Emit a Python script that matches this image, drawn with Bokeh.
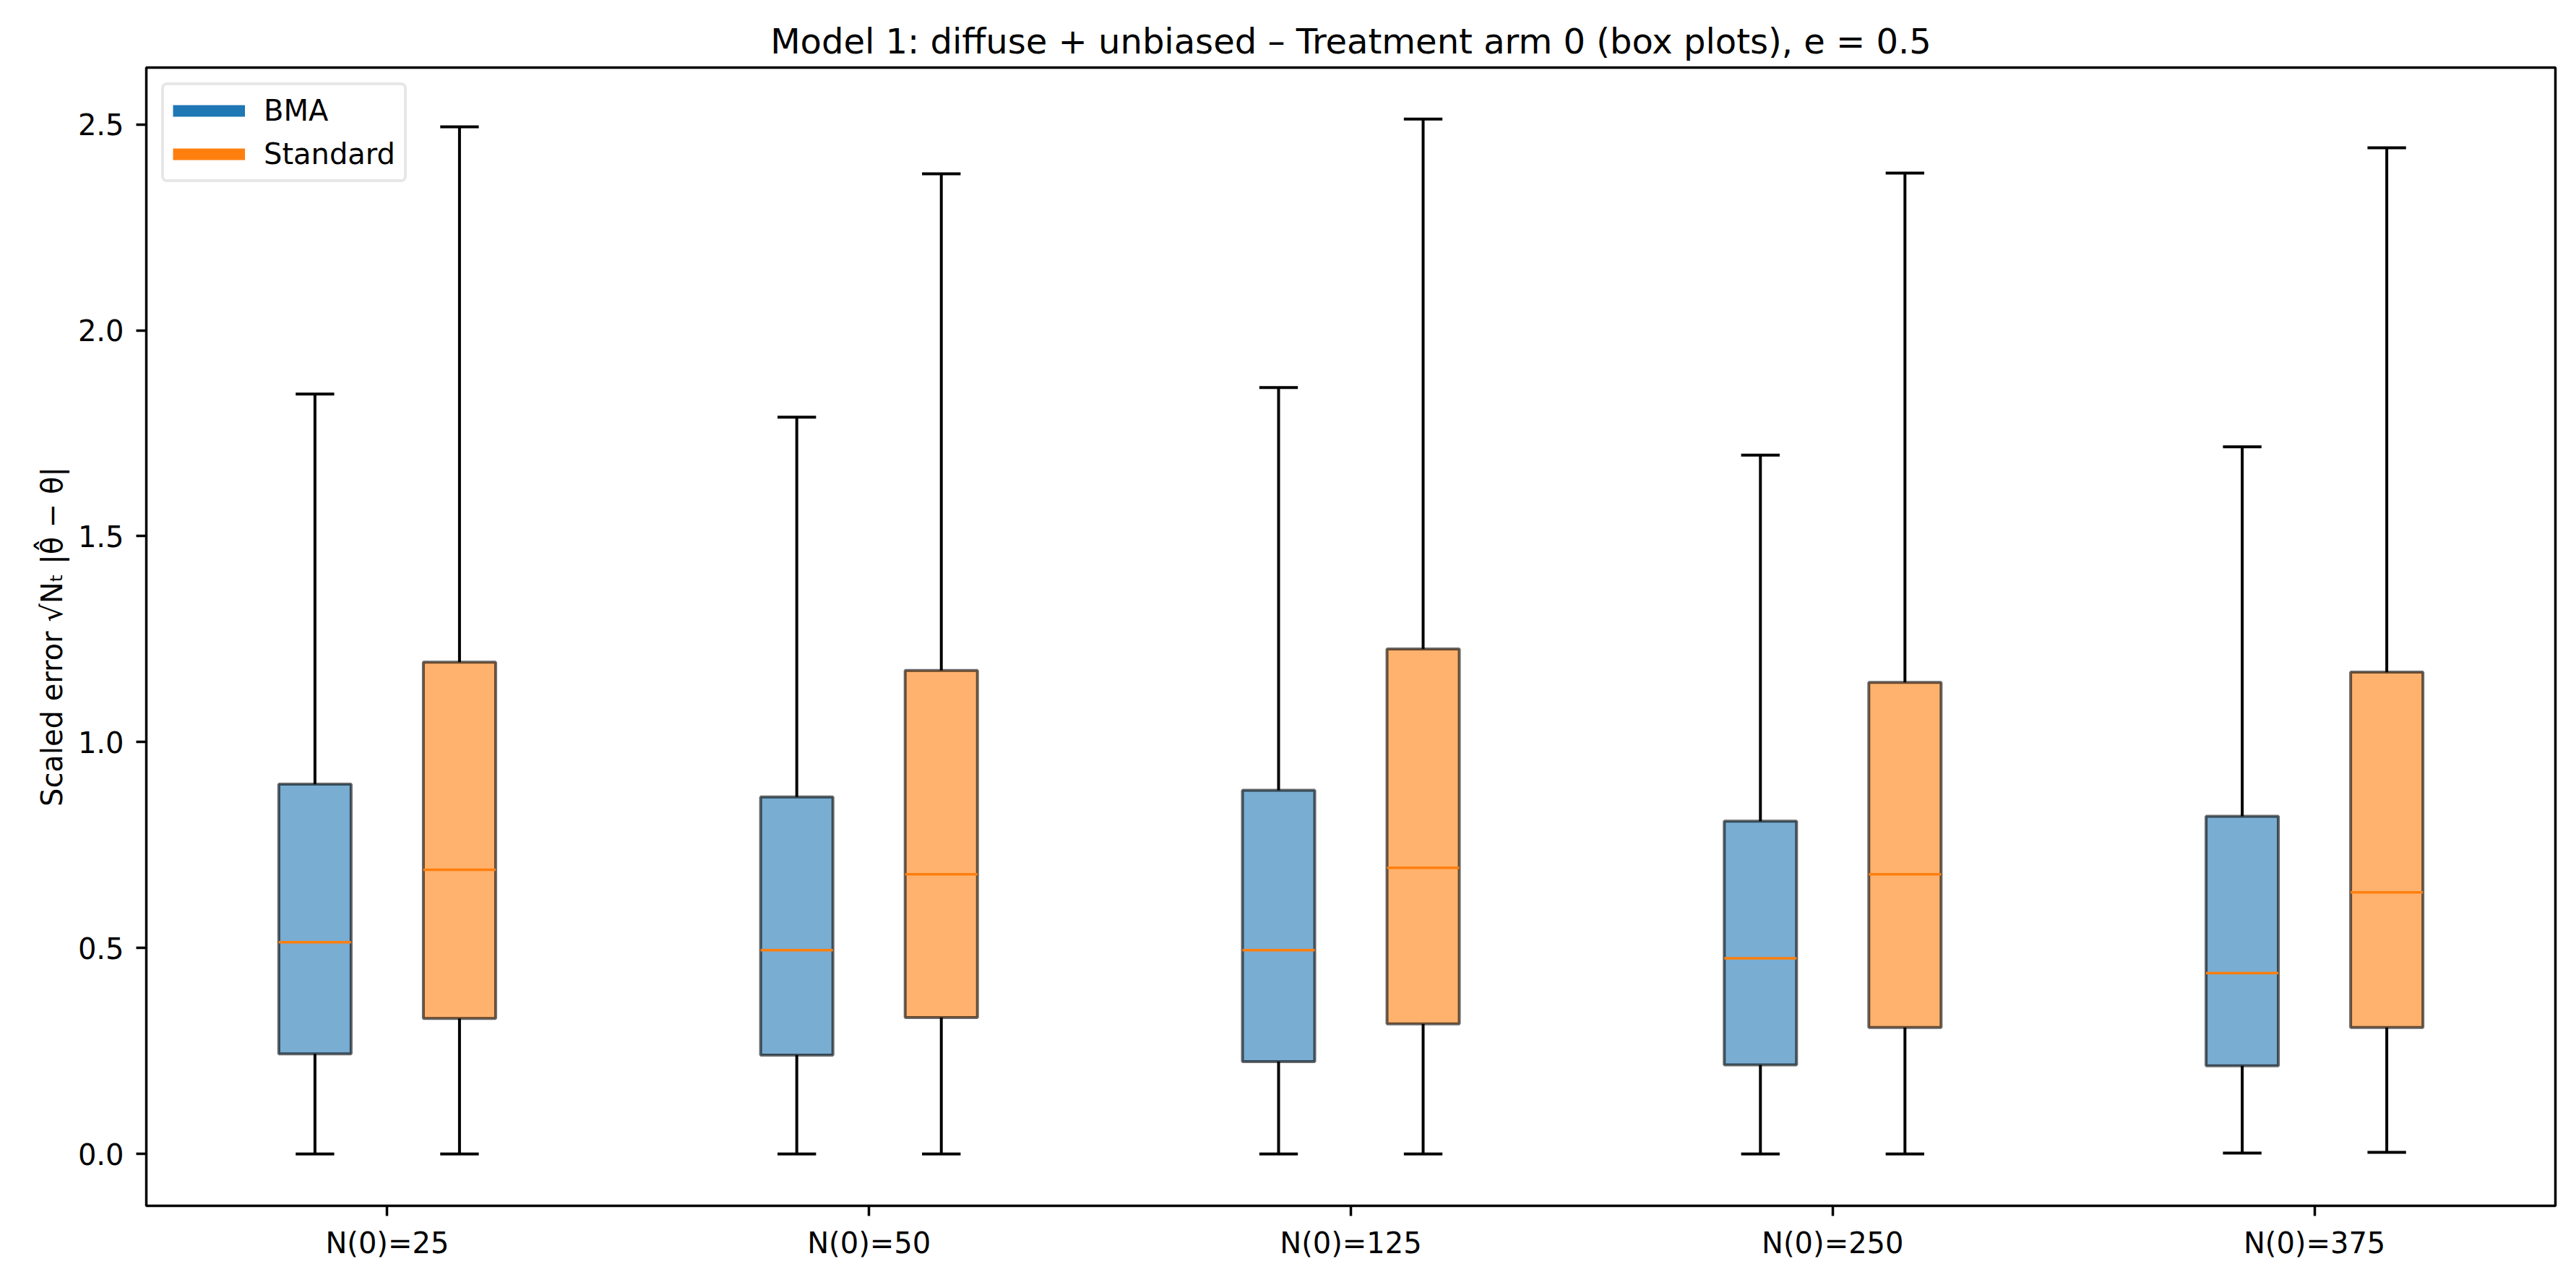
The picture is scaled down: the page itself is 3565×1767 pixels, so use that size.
import numpy as np
from bokeh.plotting import figure
from bokeh.models import Range1d, FixedTicker, Legend, LegendItem, ColumnDataSource, PrintfTickFormatter
from bokeh.embed import file_html
from bokeh.resources import INLINE

# ---- data ----
groups = ["N(0)=25", "N(0)=50", "N(0)=125", "N(0)=250", "N(0)=375"]
yticks = [0.0, 0.5, 1.0, 1.5, 2.0, 2.5]

bma_low = [0.0, 0.0, 0.0, 0.0, 0.002]
bma_q1 = [0.243, 0.240, 0.224, 0.216, 0.214]
bma_med = [0.514, 0.495, 0.495, 0.475, 0.439]
bma_q3 = [0.898, 0.867, 0.883, 0.808, 0.820]
bma_high = [1.845, 1.789, 1.861, 1.697, 1.717]

std_low = [0.0, 0.0, 0.0, 0.0, 0.004]
std_q1 = [0.329, 0.331, 0.316, 0.307, 0.307]
std_med = [0.690, 0.679, 0.695, 0.679, 0.635]
std_q3 = [1.194, 1.174, 1.226, 1.145, 1.170]
std_high = [2.494, 2.380, 2.513, 2.382, 2.443]

FONT = "DejaVu Sans"
TITLE = "Model 1: diffuse + unbiased \u2013 Treatment arm 0 (box plots), e = 0.5"
YLABEL = "Scaled error \u221aN\u209c |\u03b8\u0302 \u2212 \u03b8|"

n = len(groups)
idx = np.arange(n)
offset = 0.15
box_w = 0.15
cap_w = 0.08

p = figure(frame_width=3334, frame_height=1575,
           x_range=Range1d(-0.5, n - 0.5), y_range=Range1d(-0.126, 2.638),
           output_backend="svg", toolbar_location=None,
           min_border_left=202, min_border_right=13, min_border_top=93, min_border_bottom=72,
           title=TITLE)

series = [
    ("BMA", "#1f77b4", -offset, bma_low, bma_q1, bma_med, bma_q3, bma_high),
    ("Standard", "#ff7f0e", offset, std_low, std_q1, std_med, std_q3, std_high),
]

legend_items = []
for name, color, dx, lo, q1, med, q3, hi in series:
    x = idx + dx
    src = ColumnDataSource(dict(
        x=x, c0=x - cap_w / 2, c1=x + cap_w / 2, b0=x - box_w / 2, b1=x + box_w / 2,
        low=lo, q1=q1, med=med, q3=q3, high=hi))
    p.segment(x0="x", y0="q3", x1="x", y1="high", source=src, line_color="black", line_width=4)
    p.segment(x0="x", y0="low", x1="x", y1="q1", source=src, line_color="black", line_width=4)
    p.segment(x0="c0", y0="high", x1="c1", y1="high", source=src, line_color="black", line_width=4)
    p.segment(x0="c0", y0="low", x1="c1", y1="low", source=src, line_color="black", line_width=4)
    p.vbar(x="x", width=box_w, bottom="q1", top="q3", source=src,
           fill_color=color, fill_alpha=0.6, line_color="black", line_alpha=0.6, line_width=4)
    p.segment(x0="b0", y0="med", x1="b1", y1="med", source=src, line_color="#ff7f0e", line_width=3.5)
    # legend-only handle (a single NaN point: nothing is drawn in the plot)
    handle = p.line(x=[np.nan], y=[np.nan], line_color=color, line_width=16)
    legend_items.append(LegendItem(label=name, renderers=[handle]))

legend = Legend(items=legend_items, location="top_left")
legend.label_text_font = FONT
legend.label_text_font_size = "40px"
legend.label_text_color = "black"
legend.glyph_width = 100
legend.glyph_height = 40
legend.label_standoff = 26
legend.padding = 12
legend.spacing = 14
legend.margin = 21
legend.border_line_color = "#d0d0d0"
legend.border_line_width = 4
legend.border_radius = 8
legend.background_fill_alpha = 0.8
p.add_layout(legend)

# title
p.title.text_font = FONT
p.title.text_font_size = "48px"
p.title.text_font_style = "normal"
p.title.align = "center"
p.title.text_color = "black"
p.title.standoff = 18

# frame
p.outline_line_color = "black"
p.outline_line_width = 3.5
p.outline_line_alpha = 1.0
p.xgrid.visible = False
p.ygrid.visible = False
p.background_fill_color = "white"
p.border_fill_color = "white"

# axes
p.xaxis.ticker = FixedTicker(ticks=list(idx))
p.xaxis.major_label_overrides = {int(i): g for i, g in zip(idx, groups)}
p.yaxis.ticker = FixedTicker(ticks=yticks)
p.yaxis.formatter = PrintfTickFormatter(format="%.1f")
p.yaxis.axis_label = YLABEL

for ax in (p.xaxis[0], p.yaxis[0]):
    ax.axis_line_color = None
    ax.major_tick_line_color = "black"
    ax.major_tick_line_width = 3.5
    ax.major_tick_out = 14
    ax.major_tick_in = 0
    ax.minor_tick_line_color = None
    ax.major_label_text_font = FONT
    ax.major_label_text_font_size = "40px"
    ax.major_label_text_color = "black"
    ax.axis_label_text_font = FONT
    ax.axis_label_text_font_size = "40px"
    ax.axis_label_text_font_style = "normal"
    ax.axis_label_text_color = "black"

p.xaxis.major_label_standoff = 14
p.yaxis.major_label_standoff = 17
p.yaxis.axis_label_standoff = 10

open("out.html", "w").write(file_html(p, INLINE))
